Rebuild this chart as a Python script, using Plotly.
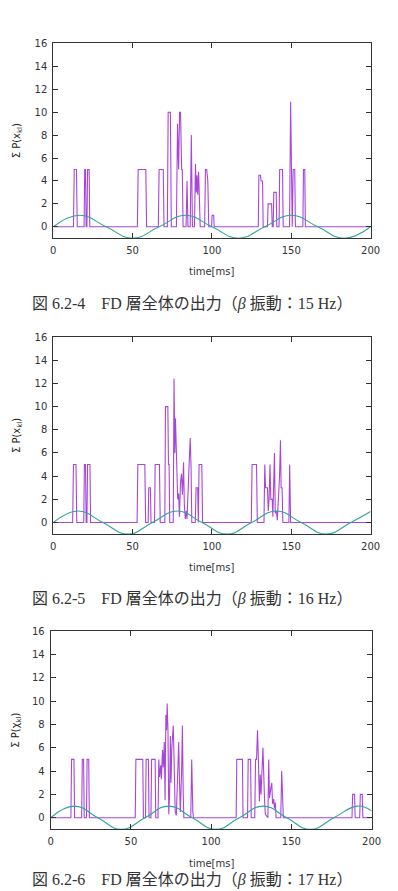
import plotly.graph_objects as go

# ---------------- data ----------------
x_ticks = [0, 50, 100, 150, 200]
y_ticks = [0, 2, 4, 6, 8, 10, 12, 14, 16]

# summed FD-layer output (time ms, value)
sig15 = [(0,0),(12.7,0),(13.2,5),(14.6,5),(15.1,0),(19.4,0),(19.8,5),(20.3,5),(20.7,0),
         (21.2,0),(21.6,5),(22.6,5),(23.0,0),(53.0,0),(53.5,5),(58.3,5),(58.8,0),
         (66.2,0),(66.7,5),(69.3,5),(69.8,0),(71.9,0),(72.4,10),(73.8,10),(74.4,0),
         (77.6,0),(78.3,9),(79.0,5),(79.6,10),(80.2,10),(80.9,5),(81.3,5),(81.8,0),
         (83.7,0),(84.3,4),(84.9,0),(86.3,0),(87.0,8),(87.7,0),
         (89.0,0),(89.6,5.5),(90.1,3),(90.6,4.5),(91.0,2.8),(91.6,4.8),(92.0,3),(92.6,0),
         (95.4,0),(95.9,5),(96.7,5),(97.4,4),(98.0,0),(99.8,0),(100.1,1),(101.1,1),(101.4,0),
         (129.2,0),(129.6,4.5),(130.6,4.5),(131.0,4),(131.9,4),(132.3,0),
         (135.0,0),(135.4,2),(137.6,2),(138.0,0),(138.6,0),(139.0,3),(140.5,3),(140.9,0),
         (142.3,0),(142.7,5),(144.5,5),(144.9,0),(148.9,0),(149.6,10.9),(150.2,5),(150.6,0),
         (151.2,5),(152.2,5),(152.6,0),(157.3,0),(157.7,5),(158.5,5),(158.9,0),(200,0)]

sig16 = [(0,0),(12.2,0),(12.7,5),(14.3,5),(14.8,0),(19.2,0),(19.6,5),(20.3,5),(20.7,0),
         (21.2,0),(21.6,5),(23.1,5),(23.5,0),(52.8,0),(53.3,5),(57.7,5),(58.2,0),
         (59.8,0),(60.2,3),(61.2,3),(61.6,0),(63.8,0),(64.2,5),(66.9,5),(67.4,0),
         (70.3,0),(70.7,10),(72.2,10),(72.6,5),(73.0,5),(73.4,0),
         (75.6,0),(76.1,12.4),(76.6,6),(77.0,9),(77.6,6.3),(78.4,2),(79.0,2.5),(79.5,0.5),
         (80.2,3.5),(80.8,4.2),(81.4,2.4),(82.1,5.2),(82.6,1.5),(83.2,0.3),(83.8,1),(84.3,0.3),
         (85.6,5),(86.3,7.3),(86.8,5),(87.3,0),(89.5,0),(90.0,3),(91.0,3),(91.4,0),
         (91.9,5),(93.6,5),(94.1,0),(124.8,0),(125.3,5),(128.1,5),(128.6,0),
         (132.8,0),(133.3,5),(133.8,3),(135.0,3),(135.5,1),(136.0,2),(136.6,5),(137.1,2),
         (138.0,2),(138.4,0.5),(139.4,6),(139.9,0.8),(140.6,1),(141.2,0.2),(142.6,4),
         (143.2,7.1),(143.6,3),(144.2,3),(144.7,0),(148.5,0),(149.0,5),(149.6,0),(200,0)]

sig17 = [(0,0),(12.6,0),(13.0,5),(14.5,5),(14.9,0),(19.3,0),(19.7,5),(20.5,5),(20.9,0),
         (22.3,0),(22.7,5),(23.7,5),(24.1,0),(52.7,0),(53.1,5),(57.4,5),(57.8,0),
         (59.1,0),(59.5,5),(60.9,5),(61.3,0),(62.5,0),(62.9,5),(65.1,5),(65.5,0),
         (66.9,0),(67.4,5),(67.9,3.5),(68.6,4.5),(69.0,3.3),(69.7,5.8),(70.2,4.3),(70.8,6.5),
         (71.3,1.5),(71.8,8.8),(72.2,7.5),(72.6,9.8),(73.1,7.5),(73.6,0.3),(74.1,2),(74.6,7),
         (75.0,3),(75.5,6),(76.4,7.9),(76.9,5),(77.6,0.5),(78.3,0.2),(79.0,3),(79.8,6.5),
         (80.3,3),(80.8,0.5),(81.6,4),(82.1,7.9),(82.6,2),(83.0,0),(87.3,0),(87.9,5),
         (88.6,0.5),(89.0,0),(115.6,0),(116.0,5),(119.5,5),(119.9,0),(122.7,0),(123.1,5),
         (124.6,5),(125.0,0),(127.2,0),(127.7,5),(128.3,5),(128.9,7.5),(129.4,5.3),
         (130.1,1.4),(130.6,3.7),(131.1,2),(132.3,6),(132.8,2),(133.3,1.5),(133.8,0.3),
         (135.4,0),(135.9,5),(136.4,1.7),(137.2,2.5),(137.8,3),(138.3,1.2),(139.0,1.6),
         (139.5,0.8),(140.0,1.3),(140.5,0),(143.4,0),(144.0,4),(144.5,2.6),(145.0,0),
         (187.8,0),(188.2,2),(189.4,2),(189.8,0),(192.6,0),(193.0,2),(194.2,2),(194.6,0),(200,0)]

# beta oscillation reference (extrema / zero crossings)
beta15_t = [0, 16.7, 33.3, 50, 66.7, 83.3, 100, 116.7, 133.3, 150, 166.7, 183.3, 200]
beta15_v = [0, 1, 0, -1, 0, 1, 0, -1, 0, 1, 0, -1, 0]
beta16_t = [0, 15.6, 31.3, 46.9, 62.5, 78.1, 93.8, 109.4, 125, 140.6, 156.3, 171.9, 187.5, 200]
beta16_v = [0, 1, 0, -1, 0, 1, 0, -1, 0, 1, 0, -1, 0, 0.95]
beta17_t = [0, 14.7, 29.4, 44.1, 58.8, 73.5, 88.2, 102.9, 117.6, 132.4, 147.1, 161.8, 176.5, 191.2, 200]
beta17_v = [0, 1, 0, -1, 0, 1, 0, -1, 0, 1, 0, -1, 0, 1, 0.59]

y_titles = ["Σ P(x<sub>kl</sub>)", "Σ P(x<sub>kl</sub>)", "Σ P(χ<sub>kl</sub>)"]
captions = ["図 6.2-4　FD 層全体の出力（<i>β</i> 振動：15 Hz）",
            "図 6.2-5　FD 層全体の出力（<i>β</i> 振動：16 Hz）",
            "図 6.2-6　FD 層全体の出力（<i>β</i> 振動：17 Hz）"]

# ---------------- layout (pixels) ----------------
W, H = 398, 891
panels = [  # left, right, top, bottom in px
    (52, 380, 37.7, 233.8),
    (52, 380, 333.3, 531.7),
    (49.3, 381, 629.3, 829.0),
]
caption_y = [300, 597, 880]
ytitle_x = [15, 15, 14]

PURPLE = "#a846dc"
TEAL = "#2fa596"
AXC = "#333333"
CAPFONT = "Liberation Serif, Noto Sans CJK JP, serif"

fig = go.Figure()
sigs = [sig15, sig16, sig17]
betas = [(beta15_t, beta15_v), (beta16_t, beta16_v), (beta17_t, beta17_v)]

for i in range(3):
    xa = "x" if i == 0 else f"x{i+1}"
    ya = "y" if i == 0 else f"y{i+1}"
    st = [p[0] for p in sigs[i]]
    sv = [p[1] for p in sigs[i]]
    fig.add_trace(go.Scatter(x=st, y=sv, mode="lines", xaxis=xa, yaxis=ya,
                             line=dict(color=PURPLE, width=1.1), showlegend=False,
                             hoverinfo="skip"))
    bt, bv = betas[i]
    fig.add_trace(go.Scatter(x=bt, y=bv, mode="lines", xaxis=xa, yaxis=ya,
                             line=dict(color=TEAL, width=1.1, shape="spline", smoothing=1.3),
                             showlegend=False, hoverinfo="skip"))

    l, r, t, b = panels[i]
    xkey = "xaxis" if i == 0 else f"xaxis{i+1}"
    ykey = "yaxis" if i == 0 else f"yaxis{i+1}"
    common = dict(showgrid=False, zeroline=False, showline=True, linecolor=AXC,
                  linewidth=1, mirror="ticks", ticks="inside", ticklen=5,
                  tickcolor=AXC, tickwidth=1,
                  tickfont=dict(family="DejaVu Sans", size=10, color=AXC))
    fig.update_layout(**{
        xkey: dict(domain=[l / W, r / W], range=[0, 200], tickvals=x_ticks,
                   anchor=ya, ticklabelstandoff=3, **common),
        ykey: dict(domain=[1 - b / H, 1 - t / H], range=[-1, 16], tickvals=y_ticks,
                   anchor=xa, ticklabelstandoff=3, **common),
    })
    # axis titles
    fig.add_annotation(text="time[ms]", xref="paper", yref="paper",
                       x=((l + r) / 2) / W, y=1 - (b + 34) / H, showarrow=False,
                       xanchor="center", yanchor="middle",
                       font=dict(family="DejaVu Sans", size=10, color=AXC))
    fig.add_annotation(text=y_titles[i], xref="paper", yref="paper",
                       x=ytitle_x[i] / W, y=1 - ((t + b) / 2) / H, showarrow=False,
                       textangle=-90, xanchor="center", yanchor="middle",
                       font=dict(family="DejaVu Sans", size=10, color="#222"))
    fig.add_annotation(text=captions[i], xref="paper", yref="paper",
                       x=195.5 / W, y=1 - caption_y[i] / H, showarrow=False,
                       xanchor="center", yanchor="middle",
                       font=dict(family=CAPFONT, size=16, color="#333"))

fig.update_layout(width=W, height=H, margin=dict(l=0, r=0, t=0, b=0),
                  paper_bgcolor="white", plot_bgcolor="white")

fig.write_html("out.html")
